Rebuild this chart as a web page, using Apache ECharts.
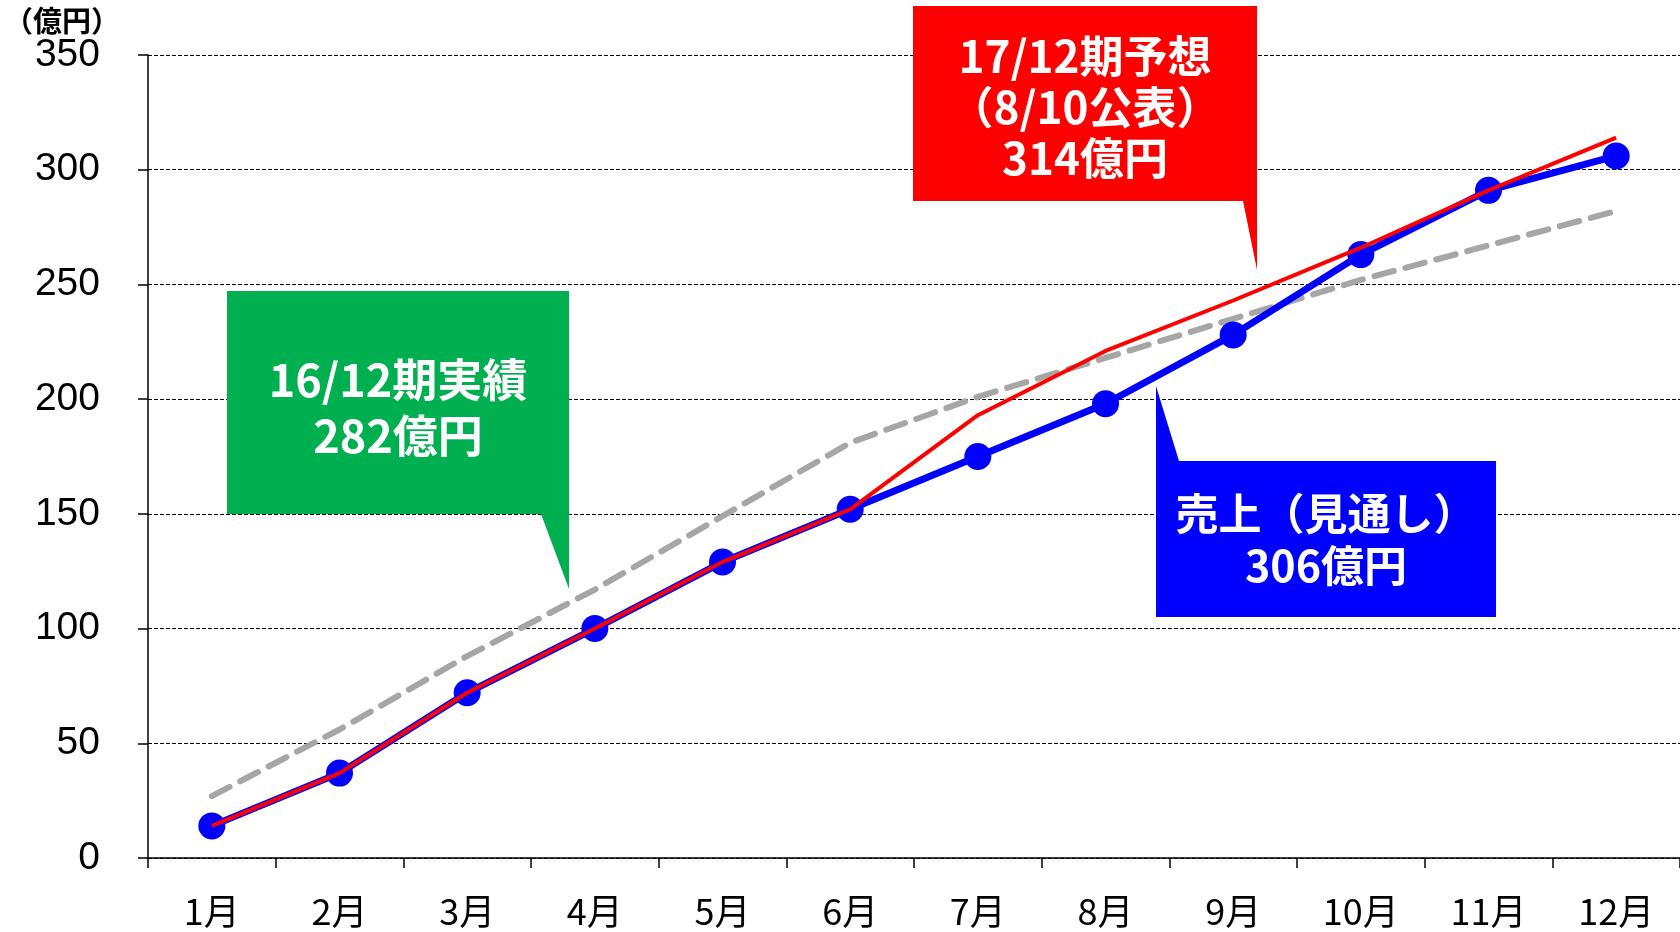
<!DOCTYPE html>
<html>
<head>
<meta charset="utf-8">
<script src="https://cdn.jsdelivr.net/npm/echarts@6/dist/echarts.min.js"></script>
<style>
  html, body { margin: 0; padding: 0; background: #fff; }
  #chart { width: 1680px; height: 932px; }
</style>
</head>
<body>
<div id="chart"></div>
<script>
(function() {
    'use strict';

    // months on the x axis
    var months = ['1月', '2月', '3月', '4月', '5月', '6月', '7月', '8月', '9月', '10月', '11月', '12月'];
    // 売上（見通し） - cumulative, 億円
    var salesOutlook = [14, 37, 72, 100, 129, 152, 175, 198, 228, 263, 291, 306];
    // 17/12期予想 (8/10公表)
    var forecast17 = [14, 37, 72, 100, 129, 152, 193, 221, 243, 266, 291, 314];
    // 16/12期実績
    var actual16 = [27, 56, 88, 117, 149, 181, 201, 218, 235, 252, 267, 282];

    var jpFont = '"Noto Sans CJK JP", "Noto Sans", sans-serif';
    var numFont = '"Liberation Sans", Arial, sans-serif';

    var chart = echarts.init(document.getElementById('chart'));

    var option = {
        animation: false,
        backgroundColor: '#fff',
        grid: { left: 148, right: 0, top: 55, bottom: 74 },
        xAxis: {
            type: 'category',
            data: months,
            boundaryGap: true,
            axisLine: { lineStyle: { color: '#000', width: 1.5 } },
            axisTick: { show: true, length: 10, lineStyle: { color: '#000', width: 1.5 } },
            axisLabel: {
                color: '#000',
                fontFamily: jpFont,
                fontSize: 36,
                lineHeight: 36,
                margin: 35
            }
        },
        yAxis: {
            type: 'value',
            min: 0,
            max: 350,
            interval: 50,
            axisLine: { show: true, lineStyle: { color: '#000', width: 1.5 } },
            axisTick: { show: true, length: 10, lineStyle: { color: '#000', width: 1.5 } },
            axisLabel: {
                color: '#000',
                fontFamily: numFont,
                fontSize: 39,
                margin: 48
            },
            splitLine: { lineStyle: { color: '#000', width: 1, type: [4, 2] } }
        },
        series: [
            {
                name: '16/12期実績',
                type: 'line',
                data: actual16,
                symbol: 'none',
                z: 2,
                lineStyle: { color: '#a6a6a6', width: 6, type: [20, 12], cap: 'round' }
            },
            {
                name: '売上（見通し）',
                type: 'line',
                data: salesOutlook,
                symbol: 'circle',
                symbolSize: 27,
                z: 3,
                itemStyle: { color: '#0000ff' },
                lineStyle: { color: '#0000ff', width: 7 }
            },
            {
                name: '17/12期予想',
                type: 'line',
                data: forecast17,
                symbol: 'none',
                z: 4,
                lineStyle: { color: '#ff0000', width: 4 }
            }
        ],
        graphic: [
            {
                type: 'text',
                left: 4,
                top: 6,
                style: { text: '（億円）', fill: '#000', font: 'bold 29px ' + jpFont }
            },
            // red callout
            {
                type: 'polygon',
                z: 10,
                shape: { points: [[913, 6], [1257, 6], [1257, 270], [1243, 201], [913, 201]] },
                style: { fill: '#ff0000' }
            },
            {
                type: 'text',
                z: 11,
                x: 1085,
                y: 107,
                style: {
                    text: '17/12期予想\n（8/10公表）\n314億円',
                    fill: '#fff',
                    font: 'bold 44px ' + jpFont,
                    lineHeight: 51,
                    align: 'center',
                    verticalAlign: 'middle'
                }
            },
            // green callout
            {
                type: 'polygon',
                z: 10,
                shape: { points: [[227, 291], [569, 291], [569, 589], [541, 514], [227, 514]] },
                style: { fill: '#00b050' }
            },
            {
                type: 'text',
                z: 11,
                x: 398,
                y: 408,
                style: {
                    text: '16/12期実績\n282億円',
                    fill: '#fff',
                    font: 'bold 45px ' + jpFont,
                    lineHeight: 56,
                    align: 'center',
                    verticalAlign: 'middle'
                }
            },
            // blue callout
            {
                type: 'polygon',
                z: 10,
                shape: { points: [[1156, 386], [1179, 461], [1496, 461], [1496, 617], [1156, 617]] },
                style: { fill: '#0000ff' }
            },
            {
                type: 'text',
                z: 11,
                x: 1326,
                y: 540,
                style: {
                    text: '売上（見通し）\n306億円',
                    fill: '#fff',
                    font: 'bold 43px ' + jpFont,
                    lineHeight: 52,
                    align: 'center',
                    verticalAlign: 'middle'
                }
            }
        ]
    };

    chart.setOption(option);
})();
</script>
</body>
</html>
